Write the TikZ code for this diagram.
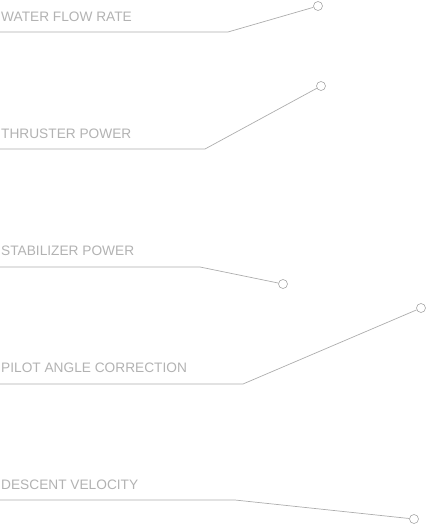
\documentclass[tikz,border=0pt]{standalone}
\usepackage{fontspec}
\setmainfont{Liberation Sans}
\begin{document}
\begin{tikzpicture}[x=1pt,y=-1pt,
  lbl/.style={anchor=base west,inner sep=0pt,text=black!30,font=\fontsize{13.7}{14}\selectfont},
  dot/.style={circle,draw=black!35,line width=0.6pt,minimum size=9pt,inner sep=0pt},
  lead/.style={draw=black!32,line width=0.7pt}]
\useasboundingbox (0,0) rectangle (427,524);
% 1
\node[lbl] (t1) at (1,22) {WATER FLOW RATE};
\coordinate (s1) at (0,32); \coordinate (e1) at (228,32);
\node[dot] (c1) at (318,6) {};
\draw[lead] (s1) -- (e1) -- (c1);
% 2
\node[lbl] (t2) at (1,139) {THRUSTER POWER};
\coordinate (s2) at (0,149); \coordinate (e2) at (205,149);
\node[dot] (c2) at (321,86) {};
\draw[lead] (s2) -- (e2) -- (c2);
% 3
\node[lbl] (t3) at (1,255) {STABILIZER POWER};
\coordinate (s3) at (0,267); \coordinate (e3) at (200,267);
\node[dot] (c3) at (283,284) {};
\draw[lead] (s3) -- (e3) -- (c3);
% 4
\node[lbl] (t4) at (1,372) {PILOT ANGLE CORRECTION};
\coordinate (s4) at (0,384); \coordinate (e4) at (243,384);
\node[dot] (c4) at (421,308) {};
\draw[lead] (s4) -- (e4) -- (c4);
% 5
\node[lbl] (t5) at (1,489) {DESCENT VELOCITY};
\coordinate (s5) at (0,500); \coordinate (e5) at (235,500);
\node[dot] (c5) at (414,519) {};
\draw[lead] (s5) -- (e5) -- (c5);
\end{tikzpicture}
\end{document}
